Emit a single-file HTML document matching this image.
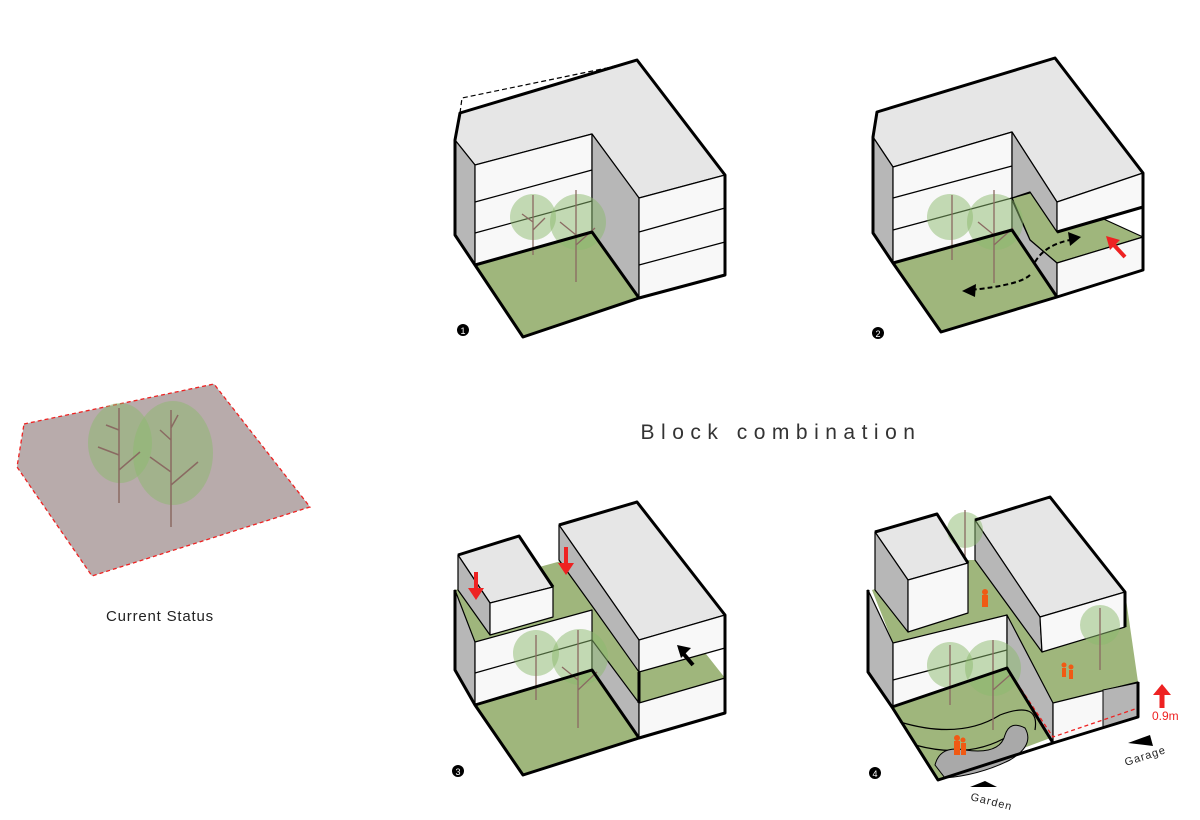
<!DOCTYPE html>
<html><head><style>
html,body{margin:0;padding:0;background:#fff;}
svg{display:block;}
text{font-family:"Liberation Sans",sans-serif;}
</style></head><body>
<svg width="1200" height="820" viewBox="0 0 1200 820" xmlns="http://www.w3.org/2000/svg">
<style>
.g{fill:#9fb67c}.r{fill:#e6e6e6}.w{fill:#f8f8f8}.s{fill:#b7b7b7}
.k{stroke:#000;stroke-width:1.2;stroke-linejoin:round}
.K{stroke:#000;stroke-width:3;fill:none;stroke-linejoin:round}
.t{fill:rgba(140,185,110,0.5)}
</style>

<!-- Current status -->
<polygon points="24,424 214,384 310,507 92,576 17,467" fill="#b8abab" stroke="#e22" stroke-width="1.3" stroke-dasharray="4,3"/>
<ellipse cx="120" cy="443" rx="32" ry="40" class="t"/>
<ellipse cx="173" cy="453" rx="40" ry="52" class="t"/>
<path d="M119,503 L119,408 M119,470 L140,452 M119,455 L98,447 M119,430 L106,425 M171,527 L171,410 M171,485 L198,462 M171,472 L150,457 M171,440 L160,430 M171,428 L178,415" stroke="#8a6a62" stroke-width="1.5" fill="none"/>
<text x="160" y="621" font-size="15" text-anchor="middle" fill="#222" letter-spacing="0.8">Current Status</text>

<text x="781" y="439" font-size="21" text-anchor="middle" fill="#333" letter-spacing="6.5">Block combination</text>

<!-- Diagram 1 -->
<polygon points="475,265 592,232 639,298 523,337" class="g"/>
<polygon points="460,113 637,60 725,175 639,198 592,134 475,165 455,140" class="r k"/>
<polygon points="455,140 475,165 475,265 455,235" class="s k"/>
<polygon points="475,165 592,134 592,232 475,265" class="w k"/>
<polygon points="592,134 639,198 639,298 592,232" class="s k"/>
<polygon points="639,198 725,175 725,275 639,298" class="w k"/>
<path d="M475,202 L592,170 M475,233 L592,201 M639,232 L725,208 M639,265 L725,242" stroke="#000" stroke-width="1.2"/>
<circle cx="533" cy="217" r="23" class="t"/><circle cx="578" cy="222" r="28" class="t"/>
<path d="M533,255 L533,195 M533,230 L545,218 M533,222 L522,214 M576,282 L576,190 M576,245 L595,228 M576,235 L560,222" stroke="#8a6a62" stroke-width="1.3" fill="none"/>
<path d="M455,140 L460,113 L637,60 L725,175 L725,275 L639,298 L523,337 L475,265 L455,235 Z M475,265 L592,232 L639,298" class="K"/>
<path d="M460,113 L462,98 L607,68 L637,60" stroke="#000" stroke-width="1.2" stroke-dasharray="5,3" fill="none"/>
<circle cx="463" cy="330" r="6" fill="#000"/><text x="463" y="334" font-size="9" fill="#fff" text-anchor="middle">1</text>

<!-- Diagram 2 -->
<polygon points="893,263 1012,230 1057,297 941,332" class="g"/>
<polygon points="1012,198 1040,190 1143,237 1057,263 1030,240" class="g k"/>
<polygon points="877,112 1055,58 1143,173 1057,202 1012,132 893,167 873,137" class="r k"/>
<polygon points="873,137 893,167 893,263 873,233" class="s k"/>
<polygon points="893,167 1012,132 1012,230 893,263" class="w k"/>
<polygon points="1012,132 1057,202 1057,232 1030,192 1012,198" class="s k"/>
<polygon points="1012,200 1030,240 1057,263 1057,297 1012,230" class="s k"/>
<polygon points="1057,202 1143,173 1143,207 1057,232" class="w k"/>
<polygon points="1057,263 1143,237 1143,270 1057,297" class="w k"/>
<path d="M893,198 L1012,166 M893,230 L1012,198" stroke="#000" stroke-width="1.2"/>
<circle cx="950" cy="217" r="23" class="t"/><circle cx="995" cy="222" r="28" class="t"/>
<path d="M952,260 L952,195 M994,283 L994,190 M994,245 L1013,228 M994,235 L978,222" stroke="#8a6a62" stroke-width="1.3" fill="none"/>
<path d="M873,137 L877,112 L1055,58 L1143,173 L1143,270 L1057,297 L941,332 L893,263 L873,233 Z M893,263 L1012,230 L1057,297 M1057,232 L1143,207" class="K"/>
<path d="M1030,275 Q1020,285 970,290" stroke="#000" stroke-width="2" stroke-dasharray="5,3" fill="none"/>
<polygon points="962,291 976,284 975,297" fill="#000"/>
<path d="M1035,262 Q1045,245 1070,240" stroke="#000" stroke-width="2" stroke-dasharray="5,3" fill="none"/>
<polygon points="1081,237 1068,232 1070,246" fill="#000"/>
<path d="M1125,257 L1112,243" stroke="#e22" stroke-width="4"/>
<polygon points="1106,236 1120,240 1110,250" fill="#e22"/>
<circle cx="878" cy="333" r="6" fill="#000"/><text x="878" y="337" font-size="9" fill="#fff" text-anchor="middle">2</text>

<!-- Diagram 3 -->
<polygon points="475,705 592,670 639,738 523,775" class="g"/>
<polygon points="455,590 620,545 725,678 639,703 592,640 475,642" class="g"/>
<polygon points="455,590 475,642 475,705 455,670" class="s k"/>
<polygon points="475,642 592,610 592,670 475,705" class="w k"/>
<path d="M475,673 L592,640" stroke="#000" stroke-width="1.2"/>
<polygon points="592,640 639,703 639,738 592,670" class="s k"/>
<polygon points="639,703 725,678 725,713 639,738" class="w k"/>
<polygon points="559,525 637,502 725,615 639,640" class="r k"/>
<polygon points="559,525 639,640 639,672 595,610 559,560" class="s k"/>
<polygon points="639,640 725,615 725,648 639,672" class="w k"/>
<polygon points="458,555 519,536 553,587 490,603" class="r k"/>
<polygon points="458,555 490,603 490,635 458,590" class="s k"/>
<polygon points="490,603 553,587 553,617 490,635" class="w k"/>
<circle cx="536" cy="653" r="23" class="t"/><circle cx="580" cy="657" r="28" class="t"/>
<path d="M536,700 L536,635 M578,728 L578,630 M578,690 L597,672 M578,680 L562,667" stroke="#8a6a62" stroke-width="1.3" fill="none"/>
<path d="M458,555 L519,536 L553,587 M559,525 L637,502 L725,615 L725,713 L639,738 L523,775 L475,705 L455,670 L455,590 M475,705 L592,670 L639,738 M639,672 L639,703" class="K"/>
<path d="M476,572 L476,590" stroke="#e22" stroke-width="4"/><polygon points="468,588 484,588 476,600" fill="#e22"/>
<path d="M566,547 L566,565" stroke="#e22" stroke-width="4"/><polygon points="558,563 574,563 566,575" fill="#e22"/>
<path d="M693,665 L682,652" stroke="#000" stroke-width="4"/><polygon points="677,645 691,648 681,658" fill="#000"/>
<circle cx="458" cy="771" r="6" fill="#000"/><text x="458" y="775" font-size="9" fill="#fff" text-anchor="middle">3</text>

<!-- Diagram 4 -->
<polygon points="872,590 965,560 1000,560 1125,592 1138,682 1053,703 1007,650 893,643" class="g"/>
<polygon points="868,590 893,643 893,707 868,672" class="s k"/>
<polygon points="893,643 1007,615 1007,668 893,707" class="w k"/>
<path d="M893,680 L1007,650" stroke="#000" stroke-width="1.2"/>
<polygon points="892,707 1007,668 1053,737 938,780" class="g"/>
<path d="M900,722 Q960,740 1000,715 Q1040,700 1035,730 M915,745 Q970,760 1010,735" stroke="#000" stroke-width="1.2" fill="none"/>
<path d="M935,765 Q940,745 965,750 Q1000,755 1005,735 Q1010,720 1025,728 Q1035,745 1010,760 Q980,775 945,778 Z" fill="#a9a9a9" stroke="#000" stroke-width="1"/>
<polygon points="1007,615 1053,703 1053,743 1007,668" class="s k"/>
<polygon points="1053,703 1138,682 1138,717 1053,743" class="w k"/>
<polygon points="1103,690 1137,683 1137,718 1103,727" fill="#b5b5b5" stroke="#000" stroke-width="1"/>
<polygon points="975,520 1050,497 1125,592 1040,617" class="r k"/>
<polygon points="975,520 1040,617 1042,652 975,560" class="s k"/>
<polygon points="1040,617 1125,592 1125,627 1042,652" class="w k"/>
<polygon points="875,532 937,514 968,563 908,580" class="r k"/>
<polygon points="875,532 908,580 908,632 875,590" class="s k"/>
<polygon points="908,580 968,563 968,613 908,632" class="w k"/>
<circle cx="965" cy="530" r="18" class="t"/>
<circle cx="1100" cy="625" r="20" class="t"/>
<circle cx="950" cy="665" r="23" class="t"/><circle cx="993" cy="668" r="28" class="t"/>
<path d="M965,560 L965,510 M1100,670 L1100,608 M950,705 L950,645 M993,730 L993,640 M993,690 L1010,675" stroke="#8a6a62" stroke-width="1.3" fill="none"/>
<path d="M868,672 L892,707 L1007,668 L1053,737 L1138,708" stroke="#e22" stroke-width="1.3" stroke-dasharray="4,3" fill="none"/>
<path d="M875,532 L937,514 L968,563 M975,520 L1050,497 L1125,592 L1125,627 M1138,682 L1138,717 L1053,743 L938,780 L892,707 L868,672 L868,590 M892,707 L1007,668 L1053,743" class="K"/>
<g fill="#f05a14">
<circle cx="985" cy="592" r="3"/><rect x="982" y="595" width="6" height="12"/>
<circle cx="1064" cy="665" r="2.5"/><rect x="1062" y="668" width="4" height="9"/>
<circle cx="1071" cy="667" r="2.5"/><rect x="1069" y="670" width="4" height="9"/>
<circle cx="957" cy="738" r="3"/><rect x="954" y="741" width="6" height="14"/>
<circle cx="963" cy="740" r="2.5"/><rect x="961" y="743" width="5" height="12"/>
</g>
<path d="M1162,708 L1162,694" stroke="#e22" stroke-width="5"/><polygon points="1153,695 1171,695 1162,684" fill="#e22"/>
<text x="1152" y="720" font-size="12" fill="#e22">0.9m</text>
<polygon points="1128,743 1150,735 1153,746" fill="#000"/>
<text x="1126" y="766" font-size="11" fill="#222" transform="rotate(-18 1126 766)" letter-spacing="1">Garage</text>
<polygon points="970,787 985,781 997,787" fill="#000"/>
<text x="970" y="800" font-size="11" fill="#222" transform="rotate(14 970 800)" letter-spacing="1">Garden</text>
<circle cx="875" cy="773" r="6" fill="#000"/><text x="875" y="777" font-size="9" fill="#fff" text-anchor="middle">4</text>
</svg>
</body></html>
